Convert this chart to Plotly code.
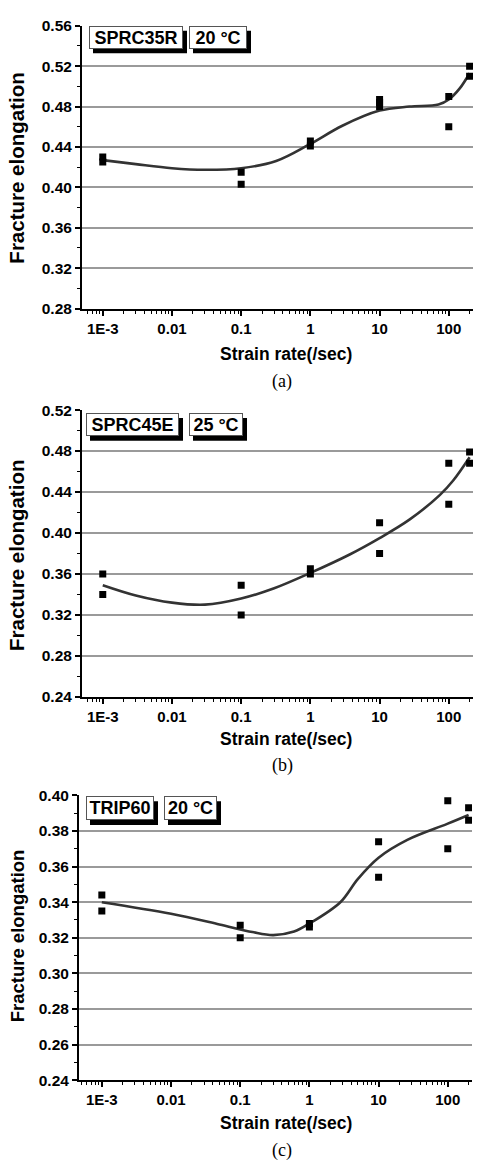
import plotly.graph_objects as go

W, H = 477, 1169

# ---------------- data ----------------
tick_vals = [0.001, 0.01, 0.1, 1, 10, 100]
tick_text = ["1E-3", "0.01", "0.1", "1", "10", "100"]

rate_a = [0.001, 0.001, 0.1, 0.1, 1, 1, 10, 10, 10, 100, 100, 200, 200]
elong_a = [0.430, 0.425, 0.415, 0.403, 0.446, 0.441, 0.487, 0.484, 0.480, 0.490, 0.460, 0.520, 0.510]
fit_rate_a = [0.001, 0.003, 0.01, 0.03, 0.1, 0.32, 1, 2.9, 10, 27, 71, 100, 144, 200]
fit_a = [0.427, 0.423, 0.419, 0.4175, 0.419, 0.426, 0.443, 0.461, 0.476, 0.480, 0.482, 0.487, 0.498, 0.513]

rate_b = [0.001, 0.001, 0.1, 0.1, 1, 1, 10, 10, 100, 100, 200, 200]
elong_b = [0.360, 0.340, 0.349, 0.320, 0.365, 0.360, 0.410, 0.380, 0.468, 0.428, 0.479, 0.468]
fit_rate_b = [0.001, 0.003, 0.01, 0.03, 0.1, 0.3, 1, 3.7, 10, 27, 74, 115, 200]
fit_b = [0.349, 0.339, 0.332, 0.330, 0.336, 0.346, 0.361, 0.379, 0.395, 0.413, 0.437, 0.451, 0.474]

rate_c = [0.001, 0.001, 0.1, 0.1, 1, 1, 10, 10, 100, 100, 200, 200]
elong_c = [0.344, 0.335, 0.327, 0.320, 0.328, 0.326, 0.374, 0.354, 0.397, 0.370, 0.393, 0.386]
fit_rate_c = [0.001, 0.01, 0.05, 0.15, 0.3, 0.6, 1, 2.8, 5, 10, 26, 98, 200]
fit_c = [0.340, 0.3335, 0.3275, 0.3232, 0.3215, 0.3235, 0.328, 0.340, 0.353, 0.365, 0.375, 0.384, 0.389]

panels = [
    dict(rate=rate_a, el=elong_a, fr=fit_rate_a, fy=fit_a, yr=[0.28, 0.56], dt=0.04,
         xpx=(82, 473), ypx=(17, 304), xr=[-3.30, 2.35], label="(a)",
         tags=[("SPRC35R", 89, 183), ("20 °C", 189, 247)], tagy=(17, 40),
         ytitle_y=162, xtitle_y=350, lab_y=378, yfs=20.5),
    dict(rate=rate_b, el=elong_b, fr=fit_rate_b, fy=fit_b, yr=[0.24, 0.52], dt=0.04,
         xpx=(82, 473), ypx=(407, 698), xr=[-3.30, 2.35], label="(b)",
         tags=[("SPRC45E", 86, 179), ("25 °C", 189, 243)], tagy=(410, 433),
         ytitle_y=555, xtitle_y=741, lab_y=768, yfs=20.5),
    dict(rate=rate_c, el=elong_c, fr=fit_rate_c, fy=fit_c, yr=[0.24, 0.40], dt=0.02,
         xpx=(79, 472), ypx=(798, 1087), xr=[-3.33, 2.35], label="(c)",
         tags=[("TRIP60", 86, 154), ("20 °C", 164, 217)], tagy=(799, 823),
         ytitle_y=941, xtitle_y=1130, lab_y=1158, yfs=18.5),
]

FONT = "Liberation Sans, Arial, sans-serif"

def px(x):
    return x / W

def py(y):
    return 1 - y / H

fig = go.Figure()
shapes = []
annotations = []

for i, p in enumerate(panels):
    n = "" if i == 0 else str(i + 1)
    xa, ya = "x" + n, "y" + n
    fig.add_trace(go.Scatter(x=p["fr"], y=p["fy"], mode="lines", line=dict(color="#333333", width=2.6, shape="spline", smoothing=1.0),
                             xaxis=xa, yaxis=ya, showlegend=False, hoverinfo="skip"))
    fig.add_trace(go.Scatter(x=p["rate"], y=p["el"], mode="markers",
                             marker=dict(symbol="square", size=7, color="black"),
                             xaxis=xa, yaxis=ya, showlegend=False))
    fig.layout["xaxis" + n] = dict(
        type="log", range=p["xr"], domain=[px(p["xpx"][0]), px(p["xpx"][1])], anchor=ya,
        tickvals=tick_vals, ticktext=tick_text, ticks="outside", ticklen=5, tickwidth=1.5, tickcolor="black",
        minor=dict(ticks="outside", ticklen=3, tickwidth=1, tickcolor="black", dtick="D1", showgrid=False),
        showline=True, linecolor="black", linewidth=2, showgrid=False, zeroline=False,
        tickfont=dict(family=FONT, size=15, color="black", weight="bold"),
    )
    fig.layout["yaxis" + n] = dict(
        range=p["yr"], domain=[py(p["ypx"][1]), py(p["ypx"][0])], anchor=xa,
        dtick=p["dt"], tick0=0, tickformat=".2f", ticks="outside", ticklen=5, tickwidth=1.5, tickcolor="black",
        minor=dict(ticks="outside", ticklen=3, tickwidth=1, tickcolor="black", dtick=p["dt"] / 2, showgrid=False),
        showline=True, linecolor="black", linewidth=2, showgrid=True, gridcolor="#9a9a9a", gridwidth=1.5,
        zeroline=False, tickfont=dict(family=FONT, size=15.5, color="black", weight="bold"),
    )
    # axis titles
    annotations.append(dict(x=px(17), y=py(p["ytitle_y"]), xref="paper", yref="paper", text="<b>Fracture elongation</b>",
                            textangle=-90, showarrow=False, xanchor="center", yanchor="middle",
                            font=dict(family=FONT, size=p["yfs"], color="black")))
    annotations.append(dict(x=px(286), y=py(p["xtitle_y"]), xref="paper", yref="paper", text="<b>Strain rate(/sec)</b>",
                            showarrow=False, xanchor="center", yanchor="middle",
                            font=dict(family=FONT, size=17.5, color="black")))
    annotations.append(dict(x=px(282), y=py(p["lab_y"]), xref="paper", yref="paper", text=p["label"],
                            showarrow=False, xanchor="center", yanchor="middle",
                            font=dict(family="Liberation Serif, Times New Roman, serif", size=18, color="black")))
    # tag boxes with shadows
    t0, t1 = p["tagy"]
    for txt, x0, x1 in p["tags"]:
        shapes.append(dict(type="rect", xref="paper", yref="paper", x0=px(x0 + 4), x1=px(x1 + 4),
                           y0=py(t1 + 5), y1=py(t0 + 5), fillcolor="black", line=dict(width=0), layer="above"))
        annotations.append(dict(x=px(x0), y=py(t0), xref="paper", yref="paper", text="<b>" + txt + "</b>",
                                showarrow=False, xanchor="left", yanchor="top", width=x1 - x0 - 2, height=t1 - t0 - 2,
                                bgcolor="white", bordercolor="#555555", borderwidth=1, borderpad=0, align="center",
                                valign="middle", font=dict(family=FONT, size=18, color="black")))

fig.update_layout(width=W, height=H, margin=dict(l=0, r=0, t=0, b=0), plot_bgcolor="white", paper_bgcolor="white",
                  shapes=shapes, annotations=annotations, showlegend=False)
fig.write_html("out.html")
